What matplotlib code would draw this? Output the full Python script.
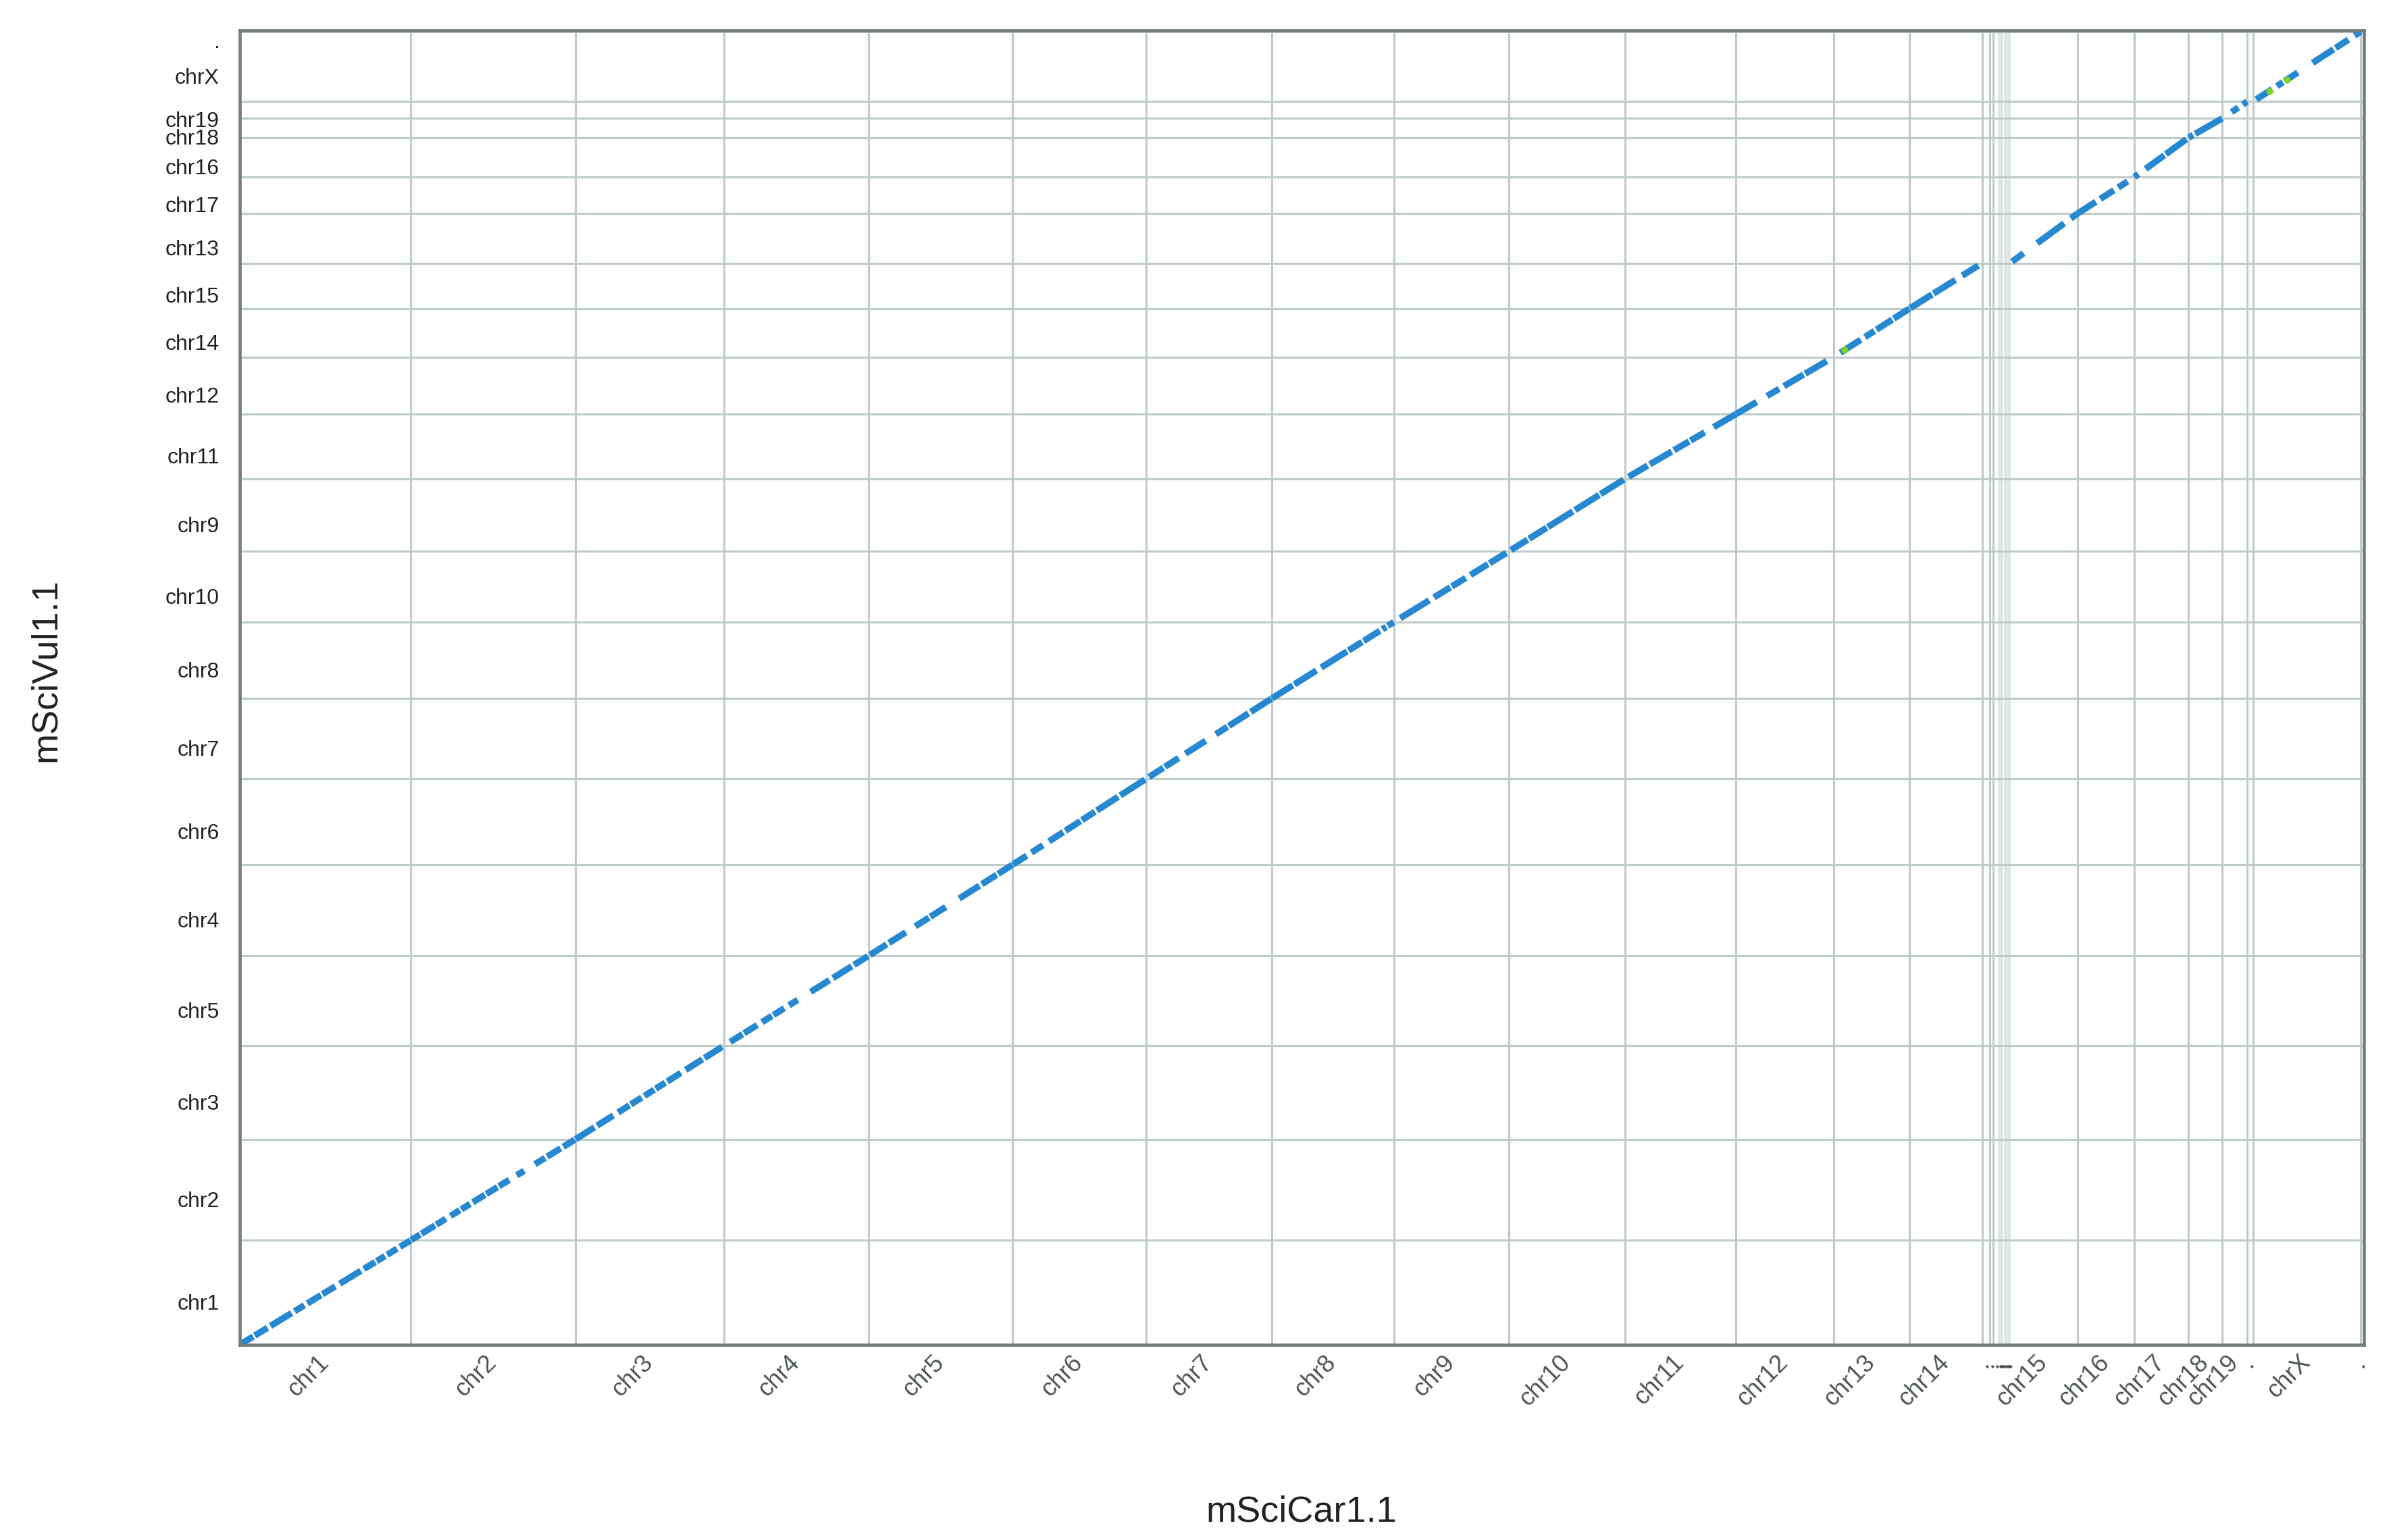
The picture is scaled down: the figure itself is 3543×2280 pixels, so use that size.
"""Dot plot: mSciCar1.1 (x) vs mSciVul1.1 (y) whole-genome alignment."""
import matplotlib
matplotlib.use("Agg")
import matplotlib.pyplot as plt
import matplotlib.transforms as mtransforms
import numpy as np

# mSciCar1.1 sequences along x, in plot order (u* = small unplaced, shown as ".")
car_ids = ["chr1", "chr2", "chr3", "chr4", "chr5", "chr6", "chr7", "chr8", "chr9",
           "chr10", "chr11", "chr12", "chr13", "chr14",
           "u1", "u2", "u3", "u4", "u5", "u6", "u7", "u8", "u9", "u10", "u11",
           "chr15", "chr16", "chr17", "chr18", "chr19", "u12", "chrX", "u13"]
car_sizes = [227.4, 218.2, 197.3, 192.5, 191.2, 177.2, 166.9, 162.2, 152.6,
             154.4, 147.2, 129.7, 100.9, 96.7,
             10.0, 4.4, 7.3, 1.9, 1.9, 1.9, 1.9, 1.9, 1.9, 1.9, 1.9,
             89.8, 75.1, 72.1, 45.0, 33.0, 7.9, 142.6, 4.1]

# mSciVul1.1 sequences along y, bottom to top
vul_ids = ["chr1", "chr2", "chr3", "chr5", "chr4", "chr6", "chr7", "chr8", "chr10",
           "chr9", "chr11", "chr12", "chr14", "chr15", "chr13", "chr17", "chr16",
           "chr18", "chr19", "chrX", "u1"]
vul_sizes = [224.3, 216.2, 200.7, 193.4, 195.3, 184.2, 172.4, 163.9, 151.6,
             155.8, 138.7, 122.3, 104.2, 97.5, 106.6, 77.7, 84.9,
             41.4, 36.2, 149.5, 3.5]

# which Vul sequence each Car sequence lines up with
pair_car = ["chr1", "chr2", "chr3", "chr4", "chr5", "chr6", "chr7", "chr8", "chr9",
            "chr10", "chr11", "chr12", "chr13", "chr14", "chr15", "chr16", "chr17",
            "chr18", "chr19", "chrX", "u13"]
pair_vul = ["chr1", "chr2", "chr3", "chr5", "chr4", "chr6", "chr7", "chr8", "chr10",
            "chr9", "chr11", "chr12", "chr14", "chr15", "chr13", "chr17", "chr16",
            "chr18", "chr19", "chrX", "u1"]

# collinear match runs on the Car sequence (Mb), one line per Car sequence
run_seq = ["chr1", "chr2", "chr3", "chr4", "chr5", "chr6", "chr7", "chr8", "chr9",
           "chr10", "chr11", "chr12", "chr13", "chr14", "chr15", "chr16", "chr17",
           "chr18", "chr19", "chrX", "u13"]
run_start = [
    [0, 20, 41, 73, 90, 110, 133, 165, 182, 196, 213],
    [0.5, 14.1, 33.8, 52.7, 67, 82.3, 100.2, 117, 140.6, 164.8, 181, 202.4],
    [0.5, 29.2, 57, 74, 91.9, 107, 122.4, 146.7, 171.8],
    [8.6, 27, 50.8, 66, 86.7, 115.4, 145, 173],
    [1.8, 27, 61.9, 82, 120.2, 150.3, 172],
    [0.5, 25, 48.3, 70, 92, 112, 143],
    [3.9, 25, 52.3, 92.7, 110, 139],
    [0.3, 30, 65.7, 102, 122, 147, 154],
    [8.4, 53.3, 77, 101.7, 127],
    [3, 27, 52, 88, 122],
    [4.7, 33, 65, 87, 117.7],
    [0.1, 41.4, 63.8, 92],
    [9.1, 41.7, 57, 80],
    [0.9, 32, 70],
    [2.7, 35.9, 80.7],
    [0.1, 30, 53.7],
    [0.2, 15.1, 42],
    [0.2, 8.8],
    [12.2, 27],
    [4.1, 31.4, 41.7, 78.9, 109.4, 134.6],
    [1.5],
]
run_end = [
    [18, 37, 69, 86, 108, 127, 161, 180, 193, 209, 227],
    [12.3, 32.0, 46.4, 65, 78.7, 98.4, 115, 130.7, 150.4, 178.2, 198.9, 217.7],
    [25.6, 50.7, 72, 88.4, 105, 119.7, 140.4, 169.1, 195.1],
    [25, 44.5, 64, 80.4, 98.3, 140.5, 170, 191.6],
    [24, 49.3, 80, 102.3, 147.1, 170, 191],
    [18.7, 40.3, 67.2, 90, 109.3, 140, 175.7],
    [23, 43.3, 79.2, 108, 136, 166.5],
    [28, 59.4, 100, 120, 143.7, 152, 162],
    [47, 75, 95.4, 125, 149.3],
    [25, 50.5, 85, 120, 152.7],
    [30, 62, 85, 105.8, 147.1],
    [27.6, 57.5, 90, 120.7],
    [36.1, 54.3, 78, 100.9],
    [30, 61, 91.5],
    [17.9, 71.8, 89.8],
    [24.1, 48.1, 66.3],
    [5.6, 40, 69.1],
    [6.1, 44.7],
    [21.2, 32.8],
    [25.1, 39.5, 59.2, 106.7, 126.5, 142.6],
    [3.9],
]

# matches in the higher identity class (green)
hi_chr = ["chr13", "chrX", "chrX"]
hi_pos = [14.8, 21.5, 44.9]


def label_of(name):
    return "." if name.startswith("u") else name


def main():
    car_off = dict(zip(car_ids, np.concatenate([[0], np.cumsum(car_sizes)[:-1]])))
    car_len = dict(zip(car_ids, car_sizes))
    vul_off = dict(zip(vul_ids, np.concatenate([[0], np.cumsum(vul_sizes)[:-1]])))
    vul_len = dict(zip(vul_ids, vul_sizes))
    partner = dict(zip(pair_car, pair_vul))

    def to_xy(chrom, pos):
        v = partner[chrom]
        return car_off[chrom] + pos, vul_off[v] + pos / car_len[chrom] * vul_len[v]

    fig = plt.figure(figsize=(3543 / 300, 2280 / 300), dpi=300)
    ax = fig.add_axes([0.10014, 0.12675, 0.88761, 0.85369])
    ax.set_xlim(0, sum(car_sizes))
    ax.set_ylim(0, sum(vul_sizes))

    # sequence boundaries
    xb = np.cumsum(car_sizes)[:-1]
    for i, b in enumerate(xb):
        tiny = min(car_sizes[i], car_sizes[i + 1]) < 2.5
        ax.axvline(b, color="#dae2e2" if tiny else "#bfcaca",
                   lw=0.4 if tiny else 0.75, zorder=1)
    for b in np.cumsum(vul_sizes)[:-1]:
        ax.axhline(b, color="#bfcaca", lw=0.75, zorder=1)

    for seq, starts, ends in zip(run_seq, run_start, run_end):
        for s, e in zip(starts, ends):
            x0, y0 = to_xy(seq, s)
            x1, y1 = to_xy(seq, e)
            ax.plot([x0, x1], [y0, y1], color="#2688d0", lw=2.3,
                    solid_capstyle="butt", zorder=3)
    for c, p in zip(hi_chr, hi_pos):
        x, y = to_xy(c, p)
        ax.plot([x], [y], "o", color="#7fd21c", ms=2.4, mew=0, zorder=4)

    # x labels: rotated, at sequence midpoints
    ax.set_xticks(np.array(list(car_off.values())) + np.array(car_sizes) / 2)
    ax.set_xticklabels([label_of(n) for n in car_ids], fontsize=8.7,
                       color="#4d5454", family="Liberation Sans")
    plt.setp(ax.get_xticklabels(), rotation=45, ha="right", va="center",
             rotation_mode="anchor")
    ax.tick_params(axis="x", length=0, pad=5)

    # y labels: drawn a little below the sequence midpoints
    ax.set_yticks([])
    ytrans = ax.get_yaxis_transform() + mtransforms.ScaledTranslation(
        -30 / 300, -17 / 300, fig.dpi_scale_trans)
    for n, off, size in zip(vul_ids, vul_off.values(), vul_sizes):
        ax.text(0, off + size / 2, label_of(n), transform=ytrans, ha="right",
                va="center", fontsize=7.7, color="#222222",
                family="Liberation Sans", clip_on=False)

    for sp in ax.spines.values():
        sp.set_color("#6f7d7d")
        sp.set_linewidth(1.1)
        sp.set_zorder(5)

    fig.text(0.5439, 0.018, "mSciCar1.1", ha="center", va="center",
             fontsize=13, family="Liberation Sans", color="#222222")
    fig.text(0.0191, 0.5649, "mSciVul1.1", ha="center", va="center",
             rotation=90, fontsize=13, family="Liberation Sans", color="#222222")

    fig.savefig("out.png", dpi=300, facecolor="white")


if __name__ == "__main__":
    main()
